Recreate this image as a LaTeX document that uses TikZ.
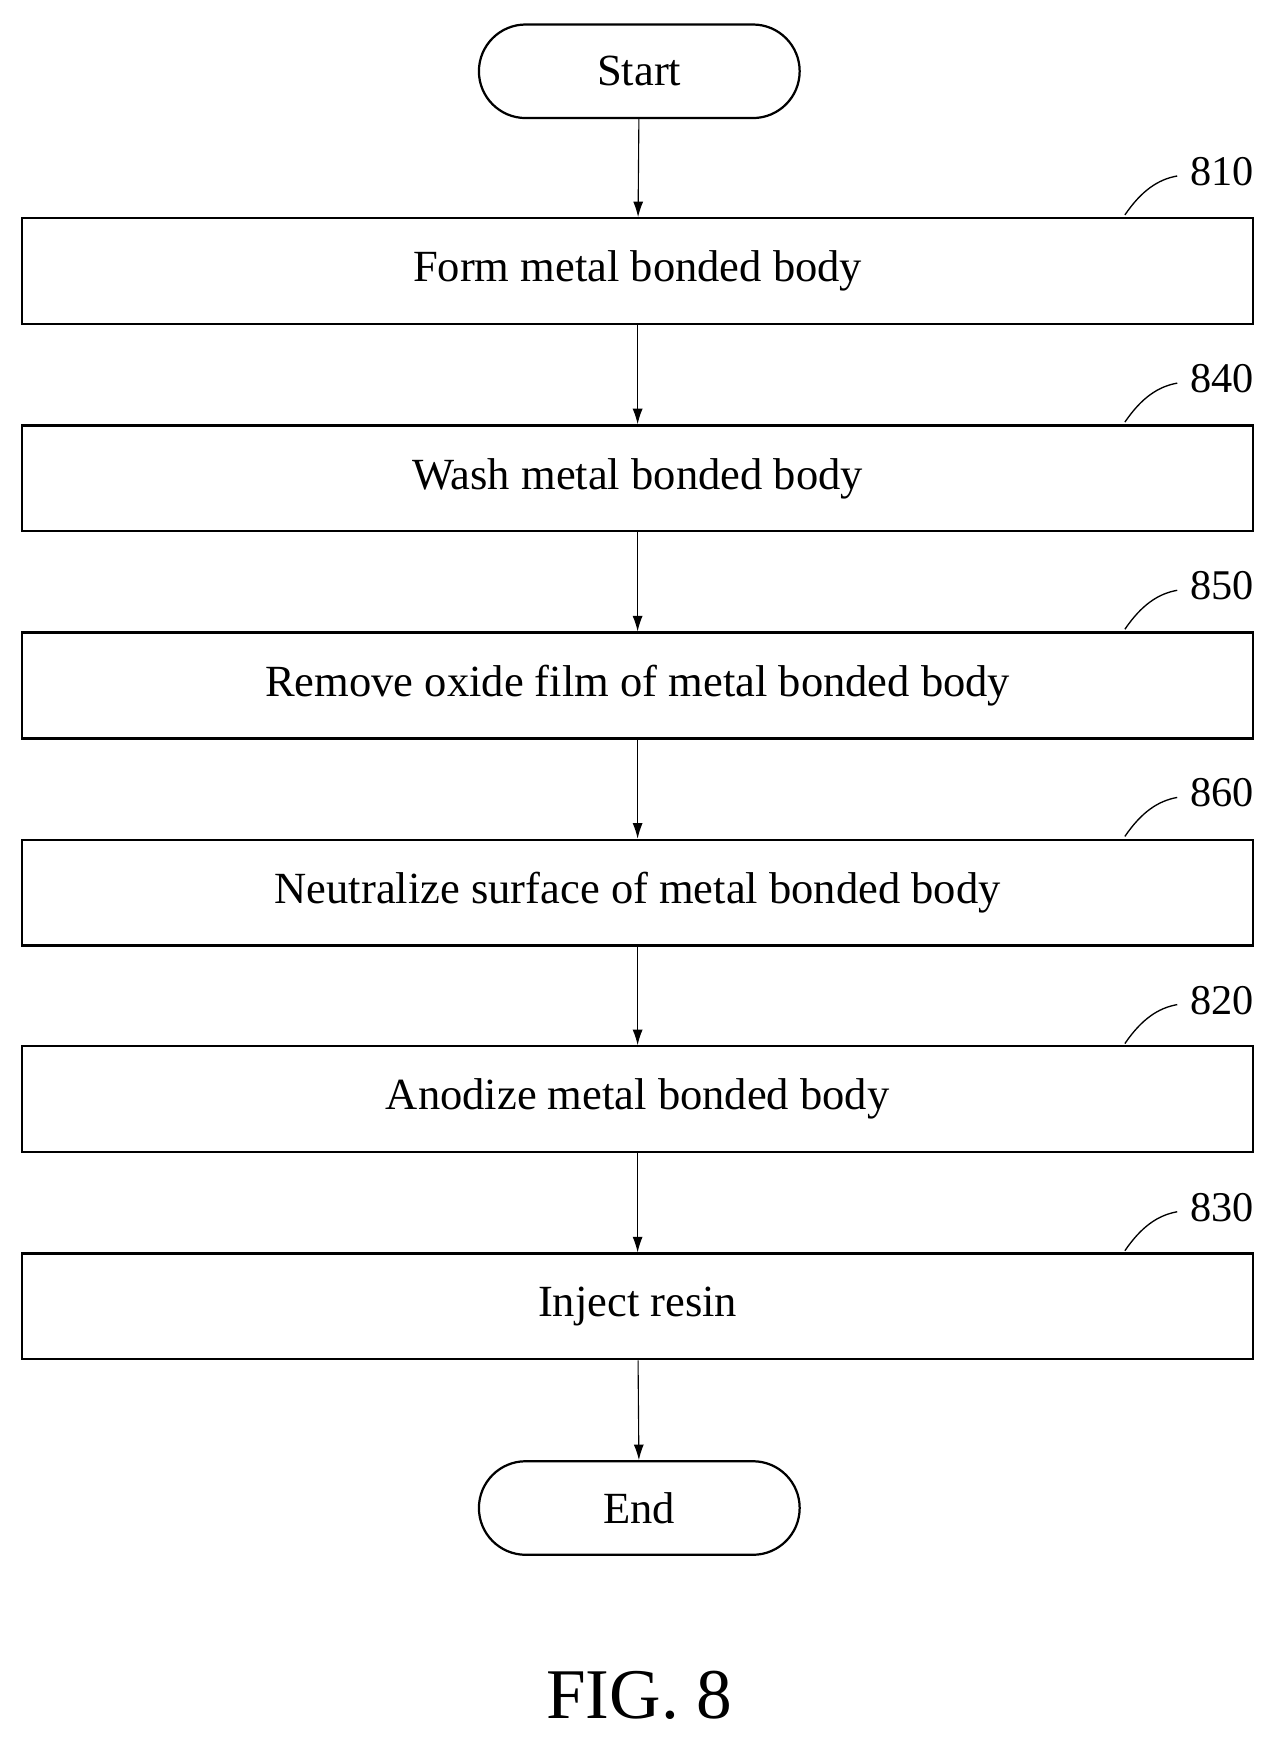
\documentclass[tikz,border=0pt]{standalone}
\usepackage{fontspec}
\setmainfont{Liberation Serif}
\usetikzlibrary{arrows.meta}
\begin{document}
\begin{tikzpicture}[x=1pt,y=-1pt,
  box/.style={draw,line width=2pt,minimum width=1105pt,minimum height=95pt,font=\fontsize{40}{48}\selectfont},
  term/.style={draw,line width=2pt,rounded corners=42pt,minimum width=288pt,minimum height=84pt,font=\fontsize{40}{48}\selectfont},
  arr/.style={-{Latex[length=14pt,width=9pt]},line width=1pt},
  lbl/.style={font=\fontsize{38}{44}\selectfont}]
\useasboundingbox (0,0) rectangle (1145,1565);
\node[term] (s) at (574,64) {Start};
\node[box] (b1) at (572.5,243.5) {Form metal bonded body};
\node[box] (b2) at (572.5,429.5) {Wash metal bonded body};
\node[box] (b3) at (572.5,615.5) {Remove oxide film of metal bonded body};
\node[box] (b4) at (572.5,801.5) {Neutralize surface of metal bonded body};
\node[box] (b5) at (572.5,987) {Anodize metal bonded body};
\node[box] (b6) at (572.5,1173) {Inject resin};
\node[term] (e) at (574,1354) {End};
\draw[arr] (s) -- (b1);
\draw[arr] (b1) -- (b2);
\draw[arr] (b2) -- (b3);
\draw[arr] (b3) -- (b4);
\draw[arr] (b4) -- (b5);
\draw[arr] (b5) -- (b6);
\draw[arr] (b6) -- (e);
\foreach \n/\y/\t in {b1/196/810,b2/382/840,b3/568/850,b4/754/860,b5/940/820,b6/1126/830}{
  \coordinate (c\n) at (1010,\y-3);
  \node[lbl] (l\n) at (1097,\y-42) {\t};
  \draw[line width=1.2pt] (c\n) .. controls (1025,\y-25) and (1040,\y-35) .. (1057,\y-38);
}
\node[font=\fontsize{64}{72}\selectfont] (fig) at (574,1522) {FIG. 8};
\end{tikzpicture}
\end{document}
